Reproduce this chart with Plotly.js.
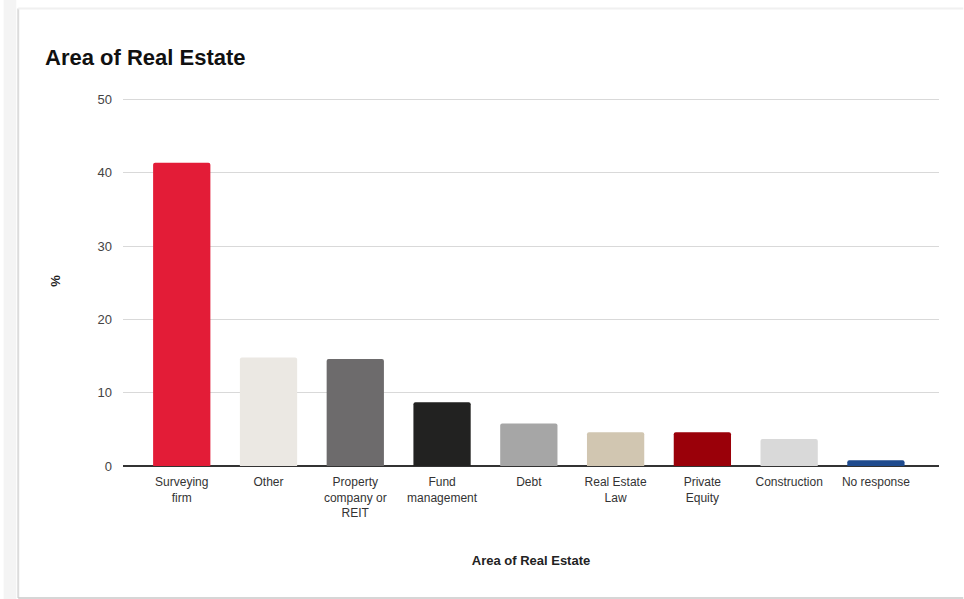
<!DOCTYPE html>
<html>
<head>
<meta charset="utf-8">
<script src="https://cdn.plot.ly/plotly-3.0.1.min.js"></script>
<style>html,body{margin:0;padding:0;background:#fff;}#chart{width:964px;height:599px;}</style>
</head>
<body>
<div id="chart"></div>
<script>
const categories = ["Surveying firm", "Other", "Property company or REIT", "Fund management", "Debt", "Real Estate Law", "Private Equity", "Construction", "No response"];
const tickLabels = ["Surveying<br>firm", "Other", "Property<br>company or<br>REIT", "Fund<br>management", "Debt", "Real Estate<br>Law", "Private<br>Equity", "Construction", "No response"];
const values = [41.4, 14.8, 14.6, 8.7, 5.8, 4.6, 4.6, 3.7, 0.8];
const barColors = ["#e31c37", "#ebe8e3", "#6d6b6c", "#222221", "#a6a6a6", "#d1c6b1", "#9a0009", "#d9d9d9", "#1f4b8e"];
const yTicks = [0, 10, 20, 30, 40, 50];

const idx = categories.map((c, i) => i);

const trace = {
  type: "bar",
  x: idx,
  y: values,
  marker: {color: barColors, line: {width: 0}, cornerradius: 2},
  width: 0.66,
  hoverinfo: "y"
};

const H = 369.36;
const layout = {
  width: 964,
  height: 599,
  paper_bgcolor: "#ffffff",
  plot_bgcolor: "#ffffff",
  margin: {l: 123, r: 25, t: 96.34, b: 133.3, pad: 0},
  font: {family: "Liberation Sans, Arial, sans-serif", color: "#444"},
  title: {
    text: "<b>Area of Real Estate</b>",
    font: {size: 22, color: "#111", family: "Liberation Sans, Arial, sans-serif"},
    x: 45 / 964, xref: "container", xanchor: "left",
    y: 1 - 57 / 599, yref: "container", yanchor: "middle"
  },
  showlegend: false,
  xaxis: {
    tickmode: "array",
    tickvals: idx,
    ticktext: tickLabels,
    range: [-0.677, 8.727],
    showgrid: false,
    zeroline: false,
    showline: false,
    ticks: "",
    tickfont: {size: 12, color: "#333"},
    ticklabelstandoff: 7,
    title: {text: "<b>Area of Real Estate</b>", font: {size: 13, color: "#222"}, standoff: 36},
    fixedrange: true
  },
  yaxis: {
    range: [0, 50.5],
    tickmode: "array",
    tickvals: yTicks,
    showgrid: true,
    gridcolor: "#d9d9d9",
    gridwidth: 1,
    zeroline: true,
    zerolinecolor: "#333",
    zerolinewidth: 1.3,
    showline: false,
    ticks: "",
    ticklen: 0,
    tickfont: {size: 13, color: "#444"},
    ticklabelstandoff: 10,
    title: {text: "<b>%</b>", font: {size: 13, color: "#222"}, standoff: 33},
    fixedrange: true
  },
  shapes: [
    {type: "rect", xref: "paper", yref: "paper", x0: -123/841, x1: -110/841, y0: -2, y1: 3, fillcolor: "#f4f4f4", line: {width: 0}, layer: "below"},
    {type: "line", xref: "paper", yref: "paper", x0: -108/841, x1: -108/841, y0: -(597.5 - 465.7) / H, y1: (465.7 - 9) / H, line: {color: "#dcdcdc", width: 2}},
    {type: "line", xref: "paper", yref: "paper", x0: -108/841, x1: 1 + 25/841, y0: (465.7 - 9) / H, y1: (465.7 - 9) / H, line: {color: "#f0f0f0", width: 2}},
    {type: "line", xref: "paper", yref: "paper", x0: -108/841, x1: 1 + 25/841, y0: -(597.5 - 465.7) / H, y1: -(597.5 - 465.7) / H, line: {color: "#c8c8c8", width: 1.5}}
  ]
};

Plotly.newPlot("chart", [trace], layout, {displayModeBar: false, staticPlot: true});
</script>
</body>
</html>
